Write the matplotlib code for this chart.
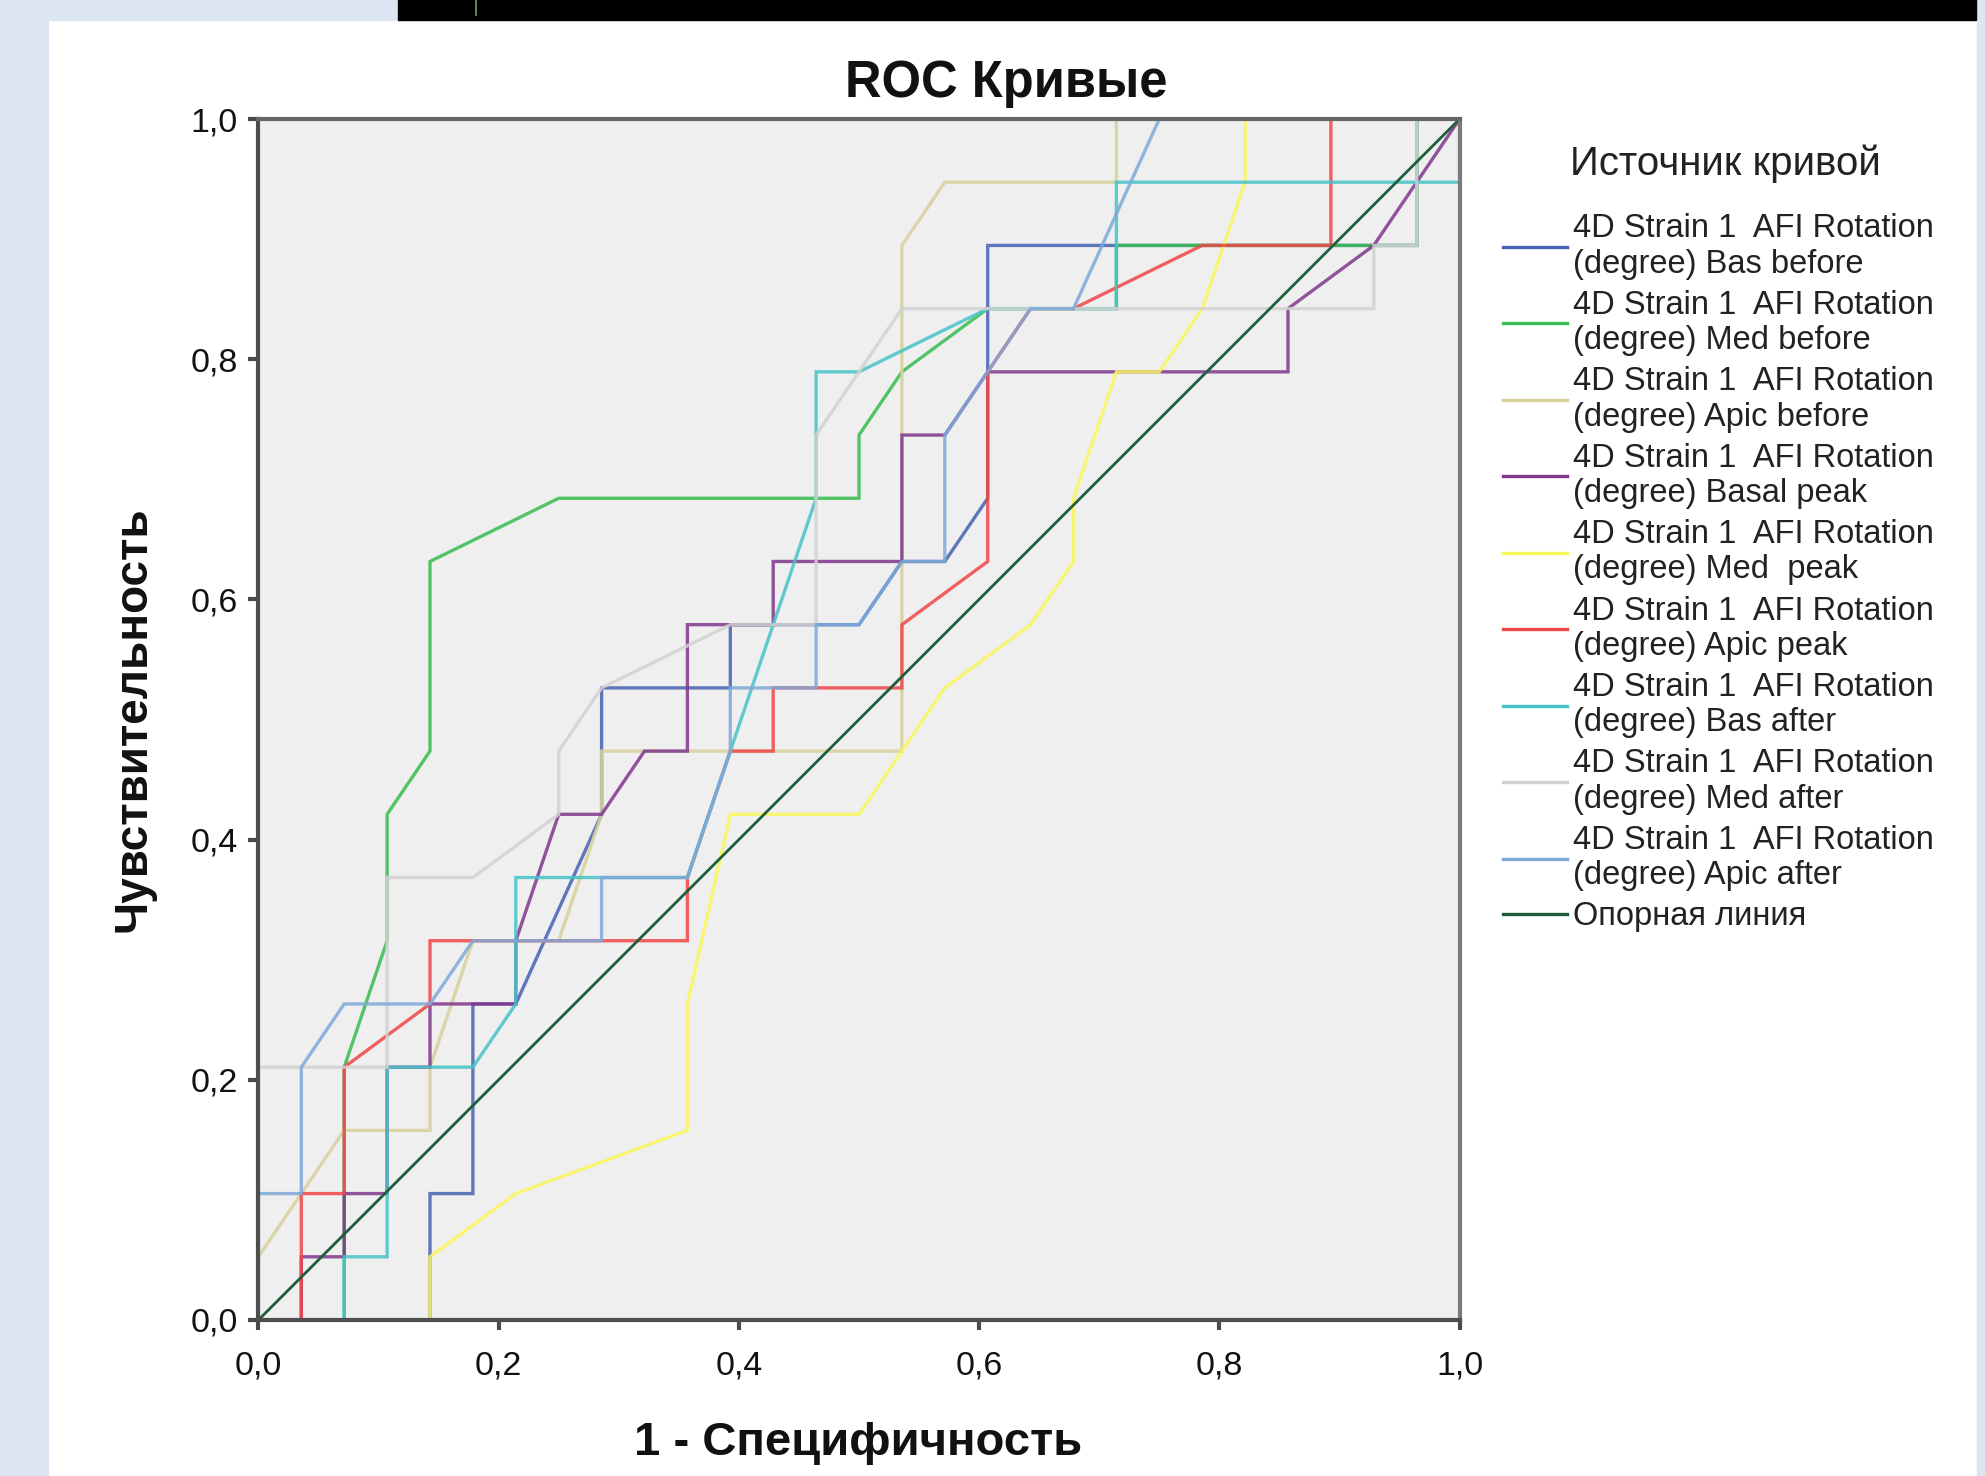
import matplotlib
matplotlib.use('Agg')
import matplotlib.pyplot as plt
import matplotlib.ticker as mticker
from matplotlib.lines import Line2D
from matplotlib.patches import Rectangle

plt.rcParams['font.family'] = ['Liberation Sans', 'DejaVu Sans']

# ROC steps stored as counts: false positives (of 28) and true positives (of 19)
N_NEG = 28
N_POS = 19

bas_before_fp = [0, 4, 4, 5, 5, 6, 8, 8, 11, 11, 14, 15, 16, 17, 17, 20, 27, 27, 28]
bas_before_tp = [0, 0, 2, 2, 5, 5, 8, 10, 10, 11, 11, 12, 12, 13, 17, 17, 17, 19, 19]
med_before_fp = [0, 2, 2, 3, 3, 4, 4, 7, 14, 14, 15, 17, 20, 20, 27, 27, 28]
med_before_tp = [0, 0, 4, 6, 8, 9, 12, 13, 13, 14, 15, 16, 16, 17, 17, 19, 19]
apic_before_fp = [0, 0, 2, 4, 4, 5, 7, 8, 8, 15, 15, 16, 20, 20, 28]
apic_before_tp = [0, 1, 3, 3, 4, 6, 6, 8, 9, 9, 17, 18, 18, 19, 19]
basal_peak_fp = [0, 1, 1, 2, 2, 3, 3, 4, 4, 6, 6, 7, 8, 9, 10, 10, 12, 12, 15, 15, 16, 17, 24, 24, 26, 28]
basal_peak_tp = [0, 0, 1, 1, 2, 2, 4, 4, 5, 5, 6, 8, 8, 9, 9, 11, 11, 12, 12, 14, 14, 15, 15, 16, 17, 19]
med_peak_fp = [0, 4, 4, 6, 10, 10, 11, 14, 15, 16, 18, 19, 19, 20, 21, 22, 23, 23, 28]
med_peak_tp = [0, 0, 1, 2, 3, 5, 8, 8, 9, 10, 11, 12, 13, 15, 15, 16, 18, 19, 19]
apic_peak_fp = [0, 1, 1, 2, 2, 4, 4, 10, 10, 11, 12, 12, 15, 15, 17, 17, 18, 19, 22, 25, 25, 28]
apic_peak_tp = [0, 0, 2, 2, 4, 5, 6, 6, 7, 9, 9, 10, 10, 11, 12, 15, 16, 16, 17, 17, 19, 19]
bas_after_fp = [0, 2, 2, 3, 3, 5, 6, 6, 10, 11, 13, 13, 14, 17, 20, 20, 28, 28]
bas_after_tp = [0, 0, 1, 1, 4, 4, 5, 7, 7, 9, 13, 15, 15, 16, 16, 18, 18, 19]
med_after_fp = [0, 0, 3, 3, 5, 7, 7, 8, 11, 13, 13, 15, 26, 26, 27, 27, 28]
med_after_tp = [0, 4, 4, 7, 7, 8, 9, 10, 11, 11, 14, 16, 16, 17, 17, 19, 19]
apic_after_fp = [0, 0, 1, 1, 2, 4, 5, 8, 8, 10, 11, 11, 13, 13, 14, 15, 16, 16, 18, 19, 21, 28]
apic_after_tp = [0, 2, 2, 4, 5, 5, 6, 6, 7, 7, 9, 10, 10, 11, 11, 12, 12, 14, 16, 16, 19, 19]

ref_line = [0.0, 1.0]

prefix = '4D Strain 1  AFI Rotation\n(degree) '
curves = [
    (bas_before_fp, bas_before_tp, prefix + 'Bas before', '#4660B4'),
    (med_before_fp, med_before_tp, prefix + 'Med before', '#38BC50'),
    (apic_before_fp, apic_before_tp, prefix + 'Apic before', '#D6D19A'),
    (basal_peak_fp, basal_peak_tp, prefix + 'Basal peak', '#80368C'),
    (med_peak_fp, med_peak_tp, prefix + 'Med  peak', '#FAF75C'),
    (apic_peak_fp, apic_peak_tp, prefix + 'Apic peak', '#F04646'),
    (bas_after_fp, bas_after_tp, prefix + 'Bas after', '#46C3C7'),
    (med_after_fp, med_after_tp, prefix + 'Med after', '#D2D2D2'),
    (apic_after_fp, apic_after_tp, prefix + 'Apic after', '#7EA9DA'),
]
ref_label = 'Опорная линия'
ref_color = '#1E5E3A'

W, H = 1985, 1476
fig = plt.figure(figsize=(W / 100, H / 100), dpi=100)
fig.patch.set_facecolor('white')

# page decoration around the chart
pale = '#DCE6F2'
fig.patches.append(Rectangle((0, 0), 48 / W, 1, transform=fig.transFigure, color=pale, zorder=0))
fig.patches.append(Rectangle((0, 1 - 20 / H), 1, 20 / H, transform=fig.transFigure, color=pale, zorder=0))
fig.patches.append(Rectangle((1977 / W, 0), 8 / W, 1, transform=fig.transFigure, color=pale, zorder=0))
fig.patches.append(Rectangle((398 / W, 1 - 20 / H), (1976 - 398) / W, 20 / H,
                             transform=fig.transFigure, color='black', zorder=1))
fig.lines.append(Line2D([476 / W, 476 / W], [1 - 15 / H, 1], transform=fig.transFigure,
                        color='#6FA060', lw=1.2, zorder=2))

ax = fig.add_axes([258.4 / W, 1 - 1320 / H, 1201.2 / W, 1201 / H])
ax.set_facecolor('#EFEFEF')

handles = []
for fp, tp, label, color in curves:
    x = [v / N_NEG for v in fp]
    y = [v / N_POS for v in tp]
    ax.plot(x, y, color=color, lw=2.4, alpha=0.85, solid_joinstyle='miter')
    handles.append(Line2D([], [], color=color, lw=2.4))
ax.plot(ref_line, ref_line, color=ref_color, lw=2.0, zorder=5)
handles.append(Line2D([], [], color=ref_color, lw=2.4))
labels = [c[2] for c in curves] + [ref_label]

ax.set_xlim(0, 1)
ax.set_ylim(0, 1)
ticks = [0.0, 0.2, 0.4, 0.6, 0.8, 1.0]
tick_labels = ['{:.1f}'.format(t).replace('.', ',') for t in ticks]
ax.xaxis.set_major_locator(mticker.FixedLocator(ticks))
ax.yaxis.set_major_locator(mticker.FixedLocator(ticks))
ax.set_xticklabels(tick_labels)
ax.set_yticklabels(tick_labels)
ax.tick_params(axis='both', direction='out', length=7, width=3, color='#4A4A4A',
               labelsize=24.5, labelcolor='#111111')
ax.tick_params(axis='x', pad=15)
ax.tick_params(axis='y', pad=8)

for side, col in [('left', '#4E4E4E'), ('bottom', '#4E4E4E'), ('top', '#666666'), ('right', '#7A7A7A')]:
    ax.spines[side].set_linewidth(3)
    ax.spines[side].set_color(col)
    ax.spines[side].set_zorder(6)

fig.text(1006 / W, 1 - 83 / H, 'ROC Кривые', ha='center', va='center',
         fontsize=36.5, fontweight='bold', color='#111111')
fig.text(858 / W, 1 - 1443 / H, '1 - Специфичность', ha='center', va='center',
         fontsize=34, fontweight='bold', color='#111111')
fig.text(133 / W, 1 - 719 / H, 'Чувствительность', ha='center', va='center',
         rotation=90, fontsize=33, fontweight='bold', color='#111111')

fig.text(1725 / W, 1 - 164 / H, 'Источник кривой', ha='center', va='center',
         fontsize=29, color='#222222')
leg = fig.legend(handles, labels, loc='upper left', bbox_to_anchor=(1487 / W, 1 - 197 / H),
                 frameon=False, fontsize=23.5, borderpad=0, handlelength=1.95,
                 handletextpad=0.2, labelspacing=0.31)
for t in leg.get_texts():
    t.set_color('#222222')
    t.set_linespacing(1.18)

fig.savefig('out.png', dpi=100, facecolor=fig.get_facecolor())
plt.close(fig)
